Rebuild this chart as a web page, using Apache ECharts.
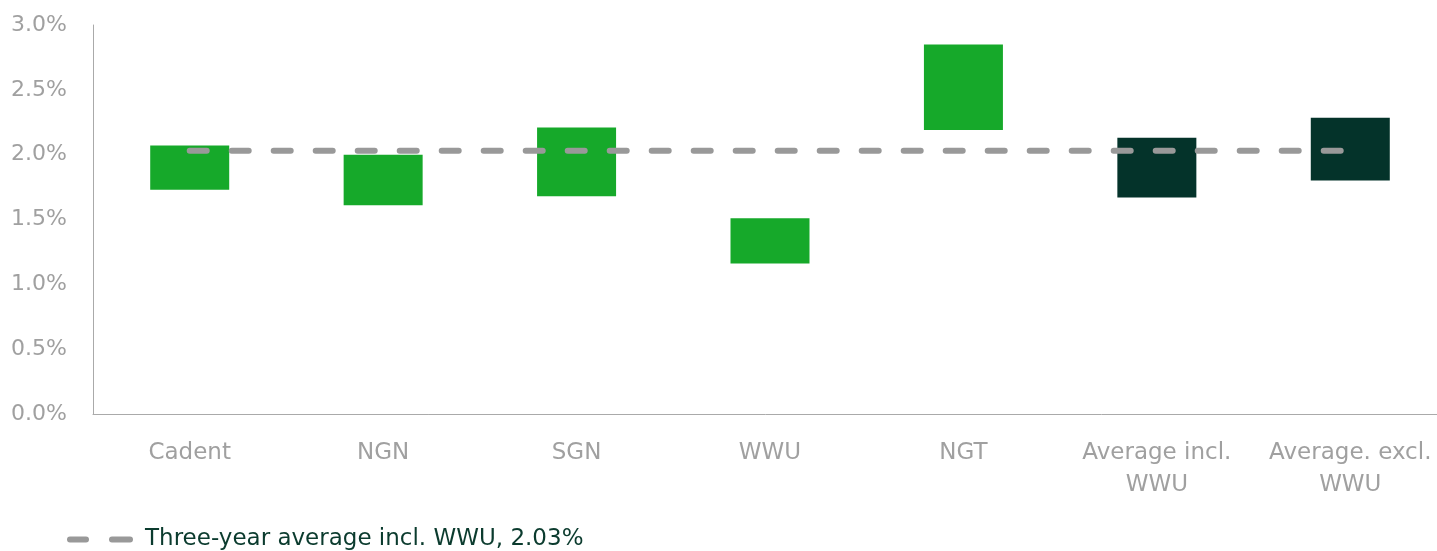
<!DOCTYPE html>
<html lang="en">
<head>
    <meta charset="UTF-8">
    <title>Three-year average</title>
    <style>
        html, body { margin: 0; padding: 0; background: #fff; }
        #chart { width: 1437px; height: 551px; }
    </style>
</head>
<body>
    <div id="chart"></div>
</body>
<script src="https://cdn.jsdelivr.net/npm/echarts@6/dist/echarts.min.js"></script>
<script>
    // values in %
    let categories = ['Cadent', 'NGN', 'SGN', 'WWU', 'NGT', 'Average incl.\nWWU', 'Average. excl.\nWWU'];
    let lowVals = [1.73, 1.61, 1.68, 1.16, 2.19, 1.67, 1.80];
    let highVals = [2.07, 2.00, 2.21, 1.51, 2.85, 2.13, 2.285];
    let avgIncl = 2.03;
    let yTicks = [0, 0.5, 1, 1.5, 2, 2.5, 3];

    let green = '#16a92a';
    let dark = '#04332a';
    let font = 'DejaVu Sans';

    let chart = echarts.init(document.getElementById('chart'));

    let rangeData = highVals.map((h, i) => ({
        value: +(h - lowVals[i]).toFixed(3),
        itemStyle: { color: i >= 5 ? dark : green }
    }));

    chart.setOption({
        animation: false,
        textStyle: { fontFamily: font },
        grid: { left: 93, right: -10, top: 25, bottom: 137, containLabel: false, outerBoundsMode: 'none' },
        legend: {
            data: [{ name: 'Three-year average incl. WWU, 2.03%', itemStyle: { color: '#999999', borderWidth: 0 } }],
            left: 67,
            top: 528,
            padding: 0,
            itemWidth: 66,
            itemHeight: 6,
            icon: 'path://M3,0 H19 A3,3 0 0 1 19,6 H3 A3,3 0 0 1 3,0 Z M45,0 H63 A3,3 0 0 1 63,6 H45 A3,3 0 0 1 45,0 Z',
            textStyle: { color: '#0b3b2e', fontSize: 23, fontFamily: font, padding: [0, 0, 0, 7] }
        },
        xAxis: {
            type: 'category',
            data: categories,
            axisLine: { lineStyle: { color: '#aaaaaa', width: 1 } },
            axisTick: { show: false },
            axisLabel: { color: '#a0a0a0', fontSize: 23, margin: 23, lineHeight: 32, interval: 0 }
        },
        yAxis: {
            type: 'value',
            min: yTicks[0],
            max: yTicks[yTicks.length - 1],
            interval: 0.5,
            axisLine: { show: true, lineStyle: { color: '#aaaaaa', width: 1 } },
            axisTick: { show: false },
            splitLine: { show: false },
            axisLabel: { color: '#a0a0a0', fontSize: 22, margin: 26, formatter: v => v.toFixed(1) + '%' }
        },
        series: [
            {
                name: 'base',
                type: 'bar',
                stack: 'range',
                barWidth: 79,
                itemStyle: { color: 'transparent' },
                data: lowVals
            },
            {
                name: 'range',
                type: 'bar',
                stack: 'range',
                barWidth: 79,
                data: rangeData
            },
            {
                name: 'Three-year average incl. WWU, 2.03%',
                type: 'line',
                symbol: 'none',
                z: 5,
                color: '#999999',
                lineStyle: { color: '#999999', width: 6, type: [17, 25], cap: 'round' },
                data: categories.map(() => avgIncl)
            }
        ]
    });
</script>
</html>
